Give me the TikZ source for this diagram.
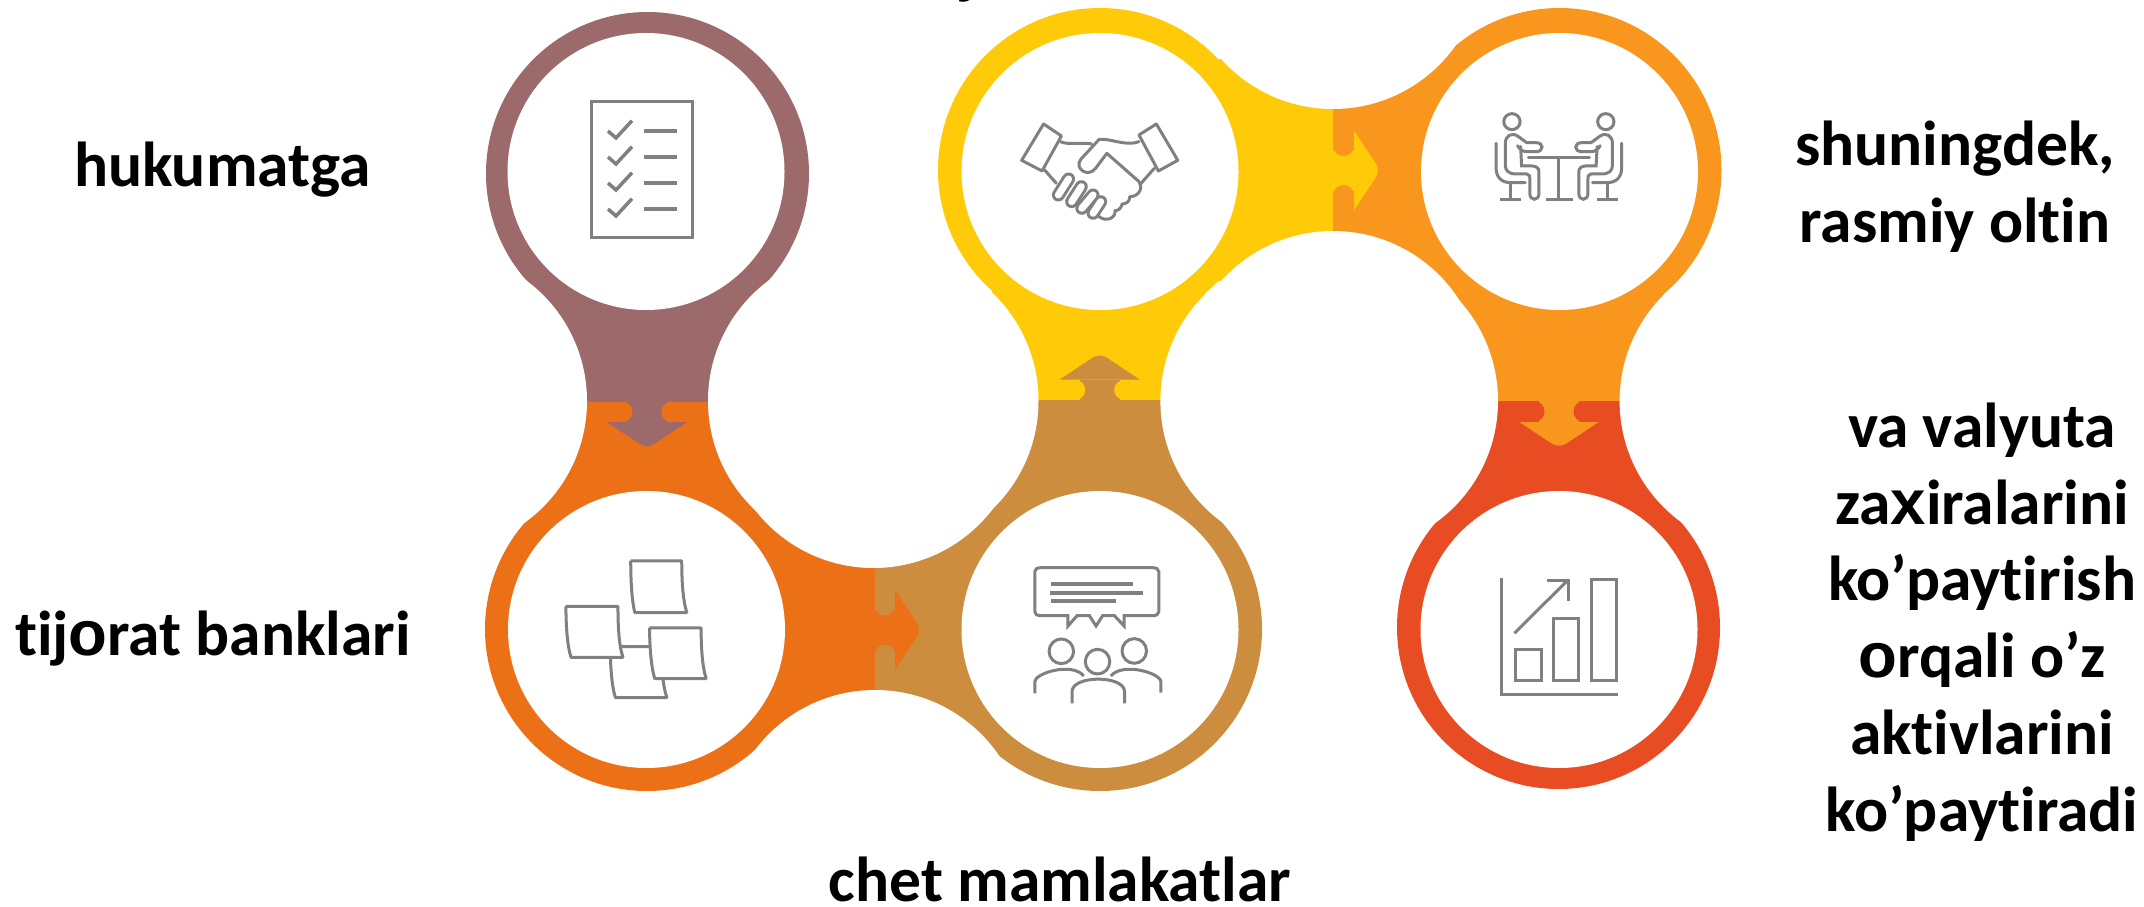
\documentclass[tikz,border=0pt]{standalone}
\usepackage{fontspec}
\setmainfont{Carlito}[Ligatures=NoCommon]
\newfontfamily\altfont{Liberation Sans}
\definecolor{cbrown}{HTML}{9C6A6A}
\definecolor{corange}{HTML}{EC7016}
\definecolor{ctan}{HTML}{CC8D3F}
\definecolor{cyellow}{HTML}{FFCB08}
\definecolor{clight}{HTML}{F9961E}
\definecolor{cred}{HTML}{E84C22}
\definecolor{cicon}{HTML}{808080}
\tikzset{
  lbl/.style={inner sep=0pt,outer sep=0pt,anchor=base,font=\fontsize{63.5}{76.8}\selectfont\bfseries,text=black},
  lblblock/.style={inner sep=0pt,outer sep=0pt,align=center,font=\fontsize{63.5}{76.8}\selectfont\bfseries,text=black},
  ico/.style={draw=cicon,line width=3pt,fill=none,line join=miter},
  note/.style={draw=cicon,line width=3pt,line join=bevel},
  hole/.style={fill=white,draw=none},
}
\newcommand{\jointarrow}[5]{%
  \begin{scope}[shift={(#1,#2)},rotate=#3]
    \fill[#4] (0,-20) rectangle (20.5,20);
    \fill[#4] (20.5,40) [rounded corners=8pt] -- (47,0) [sharp corners] -- (20.5,-40) -- cycle;
    \draw[#5,line width=20.5pt,line cap=round] (10.25,24.7) -- (10.25,100);
    \draw[#5,line width=20.5pt,line cap=round] (10.25,-24.7) -- (10.25,-100);
  \end{scope}}
\newcommand{\seated}{%
  \draw[ico] (1121,365) ellipse [x radius=16,y radius=24];
  \draw[ico,line cap=round] (1090,430) -- (1090,505) .. controls (1090,530) and (1100,548) .. (1118,548) -- (1147,548);
  \draw[ico] (1118,548) -- (1118,600);
  \draw[ico] (1098,600) -- (1138,600);
  \draw[ico,line cap=round] (1132,437) .. controls (1136,448) and (1142,455) .. (1150,455) -- (1168,455)
    .. controls (1184,455) and (1184,428) .. (1168,428) -- (1150,428) -- (1132,408)
    .. controls (1120,396) and (1108,408) .. (1108,430) -- (1108,495)
    .. controls (1108,512) and (1114,522) .. (1130,522) -- (1150,522)
    .. controls (1156,522) and (1156,530) .. (1156,540) -- (1156,580)
    .. controls (1156,604) and (1174,604) .. (1174,580) -- (1174,515)
    .. controls (1174,504) and (1168,498) .. (1160,498) -- (1140,498) -- (1138,440);
}
\begin{document}
\begin{tikzpicture}[x=1pt,y=-1pt]
\useasboundingbox (0,0) rectangle (2144,907);
\clip (0,0) rectangle (2144,907);
% modules
\fill[cbrown] (647.5,173.5) circle [radius=161.5];
\fill[cbrown] (542,173) rectangle (752,401.7);
\fill[corange] (647,629) circle [radius=162];
\fill[corange] (542,401.7) rectangle (752,629);
\fill[corange] (647,531) rectangle (874.6,745);
\fill[ctan] (1100,629) circle [radius=162];
\fill[ctan] (874.6,531) rectangle (1100,745);
\fill[ctan] (995,400) rectangle (1205,629);
\fill[cyellow] (1100,170) circle [radius=162];
\fill[cyellow] (992,170) rectangle (1205,400);
\fill[cyellow] (1100,59) rectangle (1333.4,281);
\fill[clight] (1559.5,170) circle [radius=162];
\fill[clight] (1333.4,59) rectangle (1559.5,281);
\fill[clight] (1454,170) rectangle (1664,401.3);
\fill[cred] (1558.5,627.5) circle [radius=161.5];
\fill[cred] (1454,401.3) rectangle (1664,627);
% joints
\jointarrow{647}{401.7}{-90}{cbrown}{corange}
\jointarrow{874.6}{630}{0}{corange}{ctan}
\jointarrow{1099.7}{400}{90}{ctan}{cyellow}
\jointarrow{1333.4}{170.5}{0}{cyellow}{clight}
\jointarrow{1559}{401.3}{-90}{clight}{cred}
% concave cut-outs
\foreach \cx/\cy in {437/401,858/401,888.5/401,873.5/418,875/840,1310.4/401,1348/401,1333/381,1333/-41,1769.6/401}
  \fill[hole] (\cx,\cy) circle [radius=150];
% inner discs
\foreach \cx/\cy in {646/171.5,1100/171.5,1559.5/171.5,646.5/629.5,1100/629.5,1559/629.5}
  \fill[white] (\cx,\cy) circle [radius=138.5];
% checklist icon
\draw[ico] (591,101.5) rectangle (692.5,237.5);
\foreach \dy in {0,26,52,78}{
  \draw[ico,line width=3.5pt] (608,131+\dy) -- (616,138+\dy) -- (632,120.7+\dy);
  \draw[ico,line width=4pt] (644,131+\dy) -- (677,131+\dy);
}
% handshake icon
\begin{scope}[shift={(940,0)},xscale=0.5102,yscale=0.3333]
  \foreach \ax/\ay/\bx/\by in {252/537/232/585,277/560/258/605,300/585/278/625,315/605/300/640}{
    \draw[cicon,line width=13pt,line cap=round] (\ax,\ay) -- (\bx,\by);
    \draw[white,line width=7pt,line cap=round] (\ax,\ay) -- (\bx,\by);
  }
  \draw[ico,line join=round] (203,372) -- (238,408) -- (200,513) -- (160,481) -- cycle;
  \draw[ico,line join=round] (424,372) -- (390,405) -- (428,513) -- (466,481) -- cycle;
  \draw[ico,line cap=round] (236,425) .. controls (250,436) and (280,426) .. (297,432);
  \draw[ico,line cap=round,line join=round] (390,425) .. controls (365,440) and (335,415) .. (312,418)
    -- (276,478) .. controls (262,505) and (290,535) .. (305,505) -- (327,460) -- (390,545)
    .. controls (398,560) and (392,590) .. (372,590) .. controls (372,605) and (365,612) .. (357,612)
    .. controls (355,625) and (350,632) .. (343,632) .. controls (345,655) and (325,668) .. (310,648);
  \draw[ico,line cap=round] (205,510) -- (228,550);
  \draw[ico,line cap=round] (420,505) -- (393,552);
  % seated people icon
  \seated
  \begin{scope}[shift={(2426,0)},xscale=-1]\seated\end{scope}
  \draw[ico,line cap=round] (1153,473) -- (1273,473);
  \draw[ico] (1213,473) -- (1213,600);
  \draw[ico] (1187,600) -- (1240,600);
\end{scope}
% sticky notes and meeting icons
\begin{scope}[shift={(470,380)},xscale=0.5102,yscale=0.3333]
  \draw[note] (315,543) -- (415,543) .. controls (415,600) and (417,660) .. (425,698) -- (323,698) .. controls (317,660) and (315,600) .. cycle;
  \draw[note,fill=white] (275,800) -- (375,800) .. controls (375,860) and (378,920) .. (386,953) -- (285,953) .. controls (278,920) and (275,860) .. cycle;
  \draw[note,fill=white] (188,679) -- (290,679) .. controls (290,740) and (292,800) .. (300,832) -- (198,832) .. controls (191,800) and (188,740) .. cycle;
  \draw[note,fill=white] (352,744) -- (453,744) .. controls (453,800) and (455,860) .. (463,896) -- (362,896) .. controls (355,860) and (352,800) .. cycle;
  \draw[ico] (1120,563) -- (1337,563) .. controls (1346,563) and (1350,568) .. (1350,575) -- (1350,695) .. controls (1350,703) and (1346,707) .. (1337,707)
    -- (1282,707) -- (1282,738) -- (1263,707) -- (1240,707) -- (1227,738) -- (1214,707) -- (1190,707) -- (1172,738) -- (1172,707) -- (1120,707)
    .. controls (1111,707) and (1107,703) .. (1107,695) -- (1107,575) .. controls (1107,568) and (1111,563) .. (1120,563) -- cycle;
  \fill[cicon] (1139,606) rectangle (1299,617);
  \fill[cicon] (1137,633) rectangle (1319,644);
  \fill[cicon] (1139,657) rectangle (1266,668);
  \draw[ico] (1159,814) ellipse [x radius=24,y radius=37];
  \draw[ico] (1230,845) ellipse [x radius=24,y radius=37];
  \draw[ico] (1302,813) ellipse [x radius=24,y radius=37];
  \draw[ico] (1107,940) -- (1107,905) .. controls (1107,880) and (1180,845) .. (1203,888);
  \draw[ico] (1354,938) -- (1354,905) .. controls (1354,880) and (1280,845) .. (1256,888);
  \draw[ico] (1180,970) -- (1180,935) .. controls (1180,885) and (1283,885) .. (1283,935) -- (1283,970);
\end{scope}
% growth chart icon
\draw[ico] (1501.7,578) -- (1501.7,694.3) -- (1617.7,694.3);
\draw[ico] (1515.8,649.5) rectangle (1541,680.8);
\draw[ico] (1553.8,618.2) rectangle (1578,680.8);
\draw[ico] (1591.8,579.5) rectangle (1616.2,680.8);
\draw[ico] (1514.3,633.3) -- (1567.3,580.7);
\draw[ico] (1546.7,580) -- (1568.3,580) -- (1568.3,600.7);
% labels
\node[lbl,anchor=base west] (hukumatga) at (74,186.5) {hukumatga};
\node[lbl,anchor=base west] (tijorat) at (15,655.7) {tij{\altfont o}rat banklari};
\node[lbl] (chet) at (1060,901) {chet mamlakatlar};
\node[lblblock] (shuningdek) at (1955,187) {shuningdek,\\rasmiy oltin};
\node[lblblock] (zaxira) at (1982,622) {va valyuta\\za{\altfont x}iralarini\\ko’paytirish\\{\altfont o}rqali o’z\\aktivlarini\\ko’paytiradi};
\node[lbl] (cropped) at (970,-8) {j};
\end{tikzpicture}
\end{document}
